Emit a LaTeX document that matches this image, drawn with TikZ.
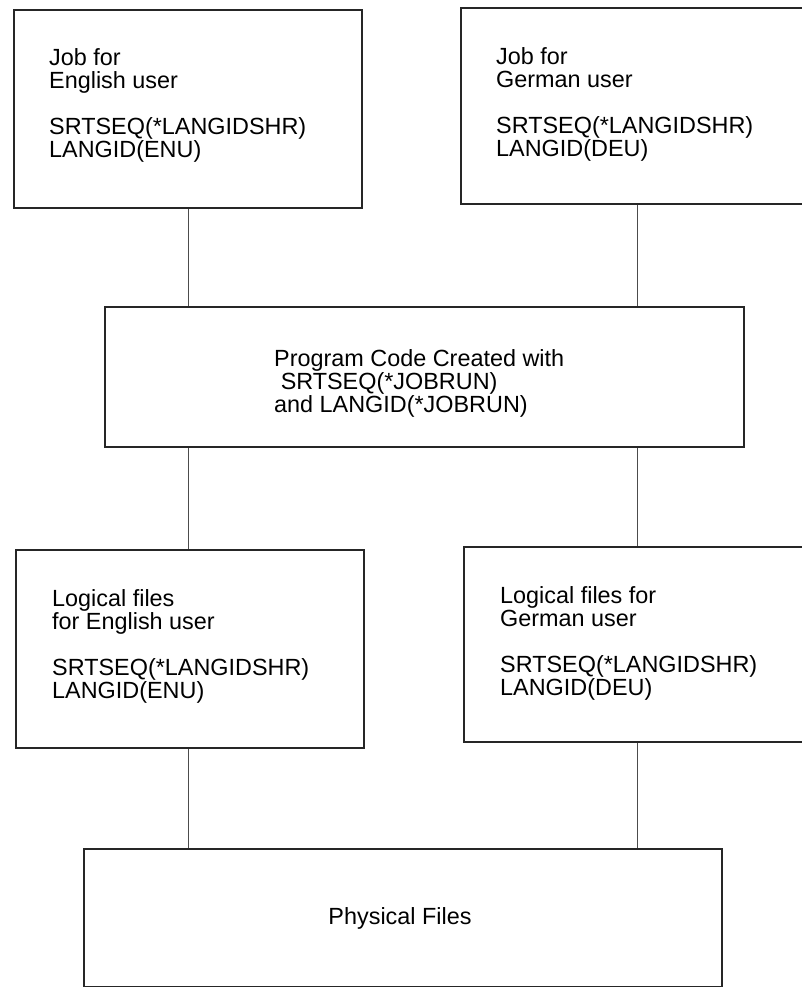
\documentclass[tikz,border=0pt]{standalone}
\usepackage{fontspec}
\setmainfont{Liberation Sans}
\begin{document}
\begin{tikzpicture}[x=1pt,y=-1pt,
  box/.style={draw=black!85, line width=1.7pt, rectangle, inner sep=0pt, anchor=north west},
  link/.style={draw=black!70, line width=0.9pt},
  label/.style={inner sep=0pt, anchor=north west, align=left,
    font=\fontsize{23.4}{23.2}\selectfont}]
\useasboundingbox (0,0) rectangle (802,987);
\clip (0,0) rectangle (802,987);

% boxes (top-left corner, size)
\node[box, minimum width=348pt, minimum height=198pt] (jobEN) at (13,9) {};
\node[box, minimum width=360pt, minimum height=196pt] (jobDE) at (460,7) {};
\node[box, minimum width=639pt, minimum height=140pt] (prog) at (104,306) {};
\node[box, minimum width=348pt, minimum height=198pt] (logEN) at (15,549) {};
\node[box, minimum width=360pt, minimum height=195pt] (logDE) at (463,546) {};
\node[box, minimum width=638pt, minimum height=137.5pt] (phys) at (83,848) {};

% box texts
\node[label] (tJobEN) at (49,48) {Job for\\English user\\[23.2pt]SRTSEQ(*LANGIDSHR)\\LANGID(ENU)};
\node[label] (tJobDE) at (496,47) {Job for\\German user\\[23.2pt]SRTSEQ(*LANGIDSHR)\\LANGID(DEU)};
\node[label] (tProg) at (274,349) {Program Code Created with\\\hspace{0.28em}SRTSEQ(*JOBRUN)\\and LANGID(*JOBRUN)};
\node[label] (tLogEN) at (52,589) {Logical files\\for English user\\[23.2pt]SRTSEQ(*LANGIDSHR)\\LANGID(ENU)};
\node[label] (tLogDE) at (500,586) {Logical files for\\German user\\[23.2pt]SRTSEQ(*LANGIDSHR)\\LANGID(DEU)};
\node[inner sep=0pt, font=\fontsize{23.4}{23.2}\selectfont] (tPhys) at (400,918) {Physical Files};

% connector columns
\coordinate (lx) at (188,0);
\coordinate (rx) at (637,0);

\draw[link] (jobEN.south -| lx) -- (prog.north -| lx);
\draw[link] (jobDE.south -| rx) -- (prog.north -| rx);
\draw[link] (prog.south -| lx) -- (logEN.north -| lx);
\draw[link] (prog.south -| rx) -- (logDE.north -| rx);
\draw[link] (logEN.south -| lx) -- (phys.north -| lx);
\draw[link] (logDE.south -| rx) -- (phys.north -| rx);
\end{tikzpicture}
\end{document}
